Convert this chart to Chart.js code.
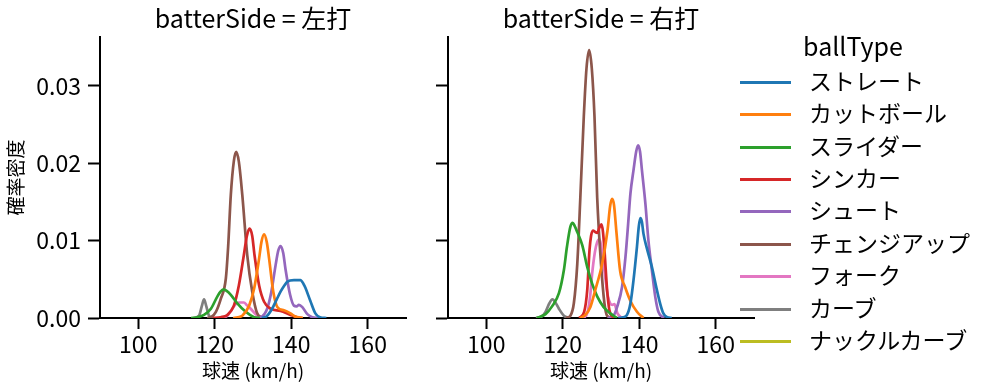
<!DOCTYPE html>
<html>
<head>
<meta charset="utf-8">
<script src="https://cdn.jsdelivr.net/npm/chart.js@4.4.1/dist/chart.umd.min.js"></script>
<style>
  body { margin: 0; background: #fff; }
  #wrap { position: relative; width: 987px; height: 391px; font-family: 'Noto Sans CJK JP', sans-serif; color: #000; }
  #leftChart { position: absolute; left: 0; top: 0; }
  #rightChart { position: absolute; left: 420px; top: 0; }
  #legend { position: absolute; left: 740px; top: 0; width: 230px; height: 391px; }
  .lg-title { position: absolute; left: 0; width: 226px; text-align: center; font-size: 25px; line-height: 25px; top: 33px; }
  .lg-line { position: absolute; left: 0; width: 51px; height: 3px; }
  .lg-text { position: absolute; left: 69px; font-size: 23px; line-height: 23px; white-space: nowrap; }
</style>
</head>
<body>
<div id="wrap">
  <canvas id="leftChart" width="420" height="391"></canvas>
  <canvas id="rightChart" width="350" height="391"></canvas>
  <div id="legend"></div>
</div>
<script>
const FONT = "'Noto Sans CJK JP', sans-serif";

// 球種と色
const ballTypes = ['ストレート', 'カットボール', 'スライダー', 'シンカー', 'シュート', 'チェンジアップ', 'フォーク', 'カーブ', 'ナックルカーブ'];
const colors = ['#1f77b4', '#ff7f0e', '#2ca02c', '#d62728', '#9467bd', '#8c564b', '#e377c2', '#7f7f7f', '#bcbd22'];

const xTicks = [100, 120, 140, 160];
const yTicks = [0, 0.01, 0.02, 0.03];

// 左打 : [球速, 確率密度]
const leftStraight = [[132.3,0],[133.5,0.0002],[135,0.0012],[136.2,0.0024],[137.2,0.0034],[138.2,0.0042],[139,0.0047],[140.7,0.0049],[142.4,0.0049],[143.2,0.0044],[143.7,0.0039],[145,0.0022],[146.3,0.0006],[147.5,0.0001],[149.2,0]];
const leftCut = [[124.8,0],[126,0.0001],[127.2,0.0003],[129,0.0016],[130.3,0.0038],[131.6,0.0077],[132.2,0.0098],[132.9,0.0108],[133.6,0.0098],[134.2,0.0077],[135.3,0.0034],[136.4,0.0014],[138.1,0.001],[139.8,0.0006],[141,0.0002],[143,0]];
const leftSlider = [[113.8,0],[115.5,0.0001],[117.2,0.0004],[119,0.0012],[120.7,0.0028],[121.5,0.0034],[122.3,0.0037],[123.1,0.0035],[124.2,0.003],[125.9,0.0019],[128.1,0.0008],[130.3,0.0001],[131.8,0]];
const leftSinker = [[119.5,0],[121.5,0.0001],[123.3,0.0004],[125,0.0016],[126.3,0.0042],[127.6,0.0081],[128.4,0.0106],[129.1,0.01155],[129.8,0.0106],[130.4,0.0081],[131.6,0.0042],[132.9,0.0021],[134.6,0.0012],[137.2,0.0009],[139.8,0.0004],[141.5,0.0001],[143,0]];
const leftShoot = [[130.5,0],[132,0.0001],[133.7,0.0012],[134.8,0.0034],[135.9,0.0068],[136.6,0.0087],[137.2,0.0093],[137.9,0.0084],[138.5,0.0063],[139.7,0.003],[140.7,0.0016],[141.4,0.0015],[142,0.0017],[142.9,0.0014],[144.2,0.0005],[145.5,0.0001],[147,0]];
const leftChangeup = [[118,0],[119,0.0001],[120.3,0.0008],[121.6,0.0025],[122.9,0.0051],[123.5,0.0092],[124.2,0.0159],[125,0.0203],[125.6,0.02145],[126.3,0.0202],[127.2,0.0159],[128.5,0.0081],[129.8,0.0034],[131.1,0.0006],[132.5,0]];
const leftFork = [[121.5,0],[123.3,0.0003],[124.6,0.0012],[125.5,0.0018],[126.3,0.002],[127.6,0.002],[128.5,0.0016],[129.4,0.0012],[130.7,0.0005],[132,0.0001],[133,0]];
const leftCurve = [[114.5,0],[115.9,0.0003],[116.6,0.0015],[117.2,0.0024],[117.8,0.0015],[118.5,0.0003],[119.8,0]];
const leftKnuckleCurve = [];

// 右打 : [球速, 確率密度]
const rightStraight = [[134.5,0],[135.8,0.0001],[136.8,0.0004],[137.7,0.0019],[138.5,0.0049],[139.4,0.0092],[139.9,0.0119],[140.3,0.0129],[140.7,0.0124],[141.1,0.0109],[142,0.009],[143.3,0.0066],[144.4,0.0041],[145.5,0.0018],[146.3,0.0006],[147.3,0.0001],[148.5,0]];
const rightCut = [[124.5,0],[125.9,0.0004],[127.2,0.0014],[128.5,0.0036],[130.3,0.007],[131.7,0.0113],[132.4,0.0145],[132.9,0.0154],[133.4,0.0146],[134,0.0113],[135,0.0061],[136.3,0.004],[137.6,0.0023],[139.4,0.0008],[141.1,0]];
const rightSlider = [[113.2,0],[115.5,0.0005],[117.2,0.0015],[119,0.0032],[120.3,0.0062],[121.1,0.0092],[122,0.0118],[122.6,0.0123],[123.1,0.0119],[123.8,0.0111],[125.1,0.0094],[126.4,0.0066],[127.7,0.0044],[129,0.0028],[130.7,0.0014],[132.4,0.0006],[134.2,0]];
const rightSinker = [[124.3,0],[125.6,0.0008],[126.4,0.0036],[127,0.0088],[127.4,0.0106],[127.9,0.0113],[128.5,0.0111],[129,0.011],[129.6,0.0117],[130.1,0.0121],[130.5,0.0112],[130.9,0.0088],[131.6,0.0036],[132.2,0.001],[133.3,0]];
const rightShoot = [[131.8,0],[133.3,0.0003],[134.2,0.0014],[135.5,0.004],[136.4,0.0079],[137.1,0.0122],[137.7,0.0161],[138.5,0.0191],[139.2,0.0215],[139.7,0.0223],[140.2,0.0215],[140.7,0.0191],[141.6,0.0148],[142.4,0.01],[143.3,0.0062],[144.2,0.0027],[145,0.0008],[146.5,0]];
const rightChangeup = [[120.8,0],[122,0.0003],[122.9,0.0019],[123.8,0.007],[124.6,0.0156],[125.5,0.026],[126.2,0.0322],[126.9,0.0346],[127.6,0.0322],[128.3,0.026],[129,0.0156],[130,0.007],[130.9,0.0019],[131.6,0.0003],[132.8,0]];
const rightFork = [[125.5,0],[126.5,0.0008],[127.2,0.003],[127.7,0.0058],[128.4,0.0085],[129,0.0098],[129.6,0.0102],[130.3,0.0085],[131.1,0.0053],[131.8,0.0028],[132.4,0.0019],[133,0.0017],[133.5,0.0018],[134.3,0.0006],[135.5,0]];
const rightCurve = [[113,0],[114.5,0.0002],[115.5,0.0008],[116.5,0.0019],[117.3,0.0024],[118.2,0.0019],[119,0.0012],[120.3,0.0003],[121.6,0]];
const rightKnuckleCurve = [];

const leftSeries = [leftStraight, leftCut, leftSlider, leftSinker, leftShoot, leftChangeup, leftFork, leftCurve, leftKnuckleCurve];
const rightSeries = [rightStraight, rightCut, rightSlider, rightSinker, rightShoot, rightChangeup, rightFork, rightCurve, rightKnuckleCurve];

// パネルのタイトル (軸の上に中央寄せ)
const panelTitle = {
    id: 'panelTitle',
    afterDraw(chart, args, opts) {
        const ctx = chart.ctx;
        const a = chart.chartArea;
        ctx.save();
        ctx.font = '25px ' + FONT;
        ctx.fillStyle = '#000';
        ctx.textAlign = 'center';
        ctx.textBaseline = 'alphabetic';
        ctx.fillText(opts.text, (a.left + a.right) / 2, a.top - 9);
        ctx.restore();
    }
};

function makePanel(canvasId, series, title, showY, yAxisWidth, padRight) {
    const ctx = document.getElementById(canvasId).getContext('2d');
    return new Chart(ctx, {
        type: 'line',
        data: {
            datasets: series.map((pts, i) => ({
                label: ballTypes[i],
                data: pts,
                borderColor: colors[i],
                backgroundColor: colors[i],
                borderWidth: 2.7,
                pointRadius: 0,
                fill: false,
                cubicInterpolationMode: 'monotone'
            }))
        },
        options: {
            responsive: false,
            animation: false,
            layout: { padding: { top: 37, right: padRight, bottom: 0, left: 0 } },
            plugins: {
                legend: { display: false },
                tooltip: { enabled: false },
                panelTitle: { text: title }
            },
            scales: {
                x: {
                    type: 'linear',
                    min: 90,
                    max: 170,
                    afterBuildTicks: s => { s.ticks = xTicks.map(v => ({ value: v })); },
                    afterFit: s => { s.height = 73; },
                    ticks: { color: '#000', font: { size: 23, family: FONT }, padding: 1, maxRotation: 0, autoSkip: false },
                    grid: { drawOnChartArea: false, drawTicks: true, tickLength: 11, tickWidth: 2, tickColor: '#000' },
                    border: { display: true, width: 2, color: '#000' },
                    title: { display: true, text: '球速 (km/h)', color: '#000', font: { size: 19, family: FONT }, padding: { top: 0, bottom: 9 } }
                },
                y: {
                    type: 'linear',
                    min: 0,
                    max: 0.0363,
                    afterBuildTicks: s => { s.ticks = yTicks.map(v => ({ value: v })); },
                    afterFit: s => { s.width = yAxisWidth; },
                    ticks: { display: showY, color: '#000', font: { size: 23, family: FONT }, padding: 7, callback: v => v.toFixed(2) },
                    grid: { drawOnChartArea: false, drawTicks: true, tickLength: 12, tickWidth: 2, tickColor: '#000' },
                    border: { display: true, width: 2, color: '#000' },
                    title: { display: showY, text: '確率密度', color: '#000', font: { size: 19, family: FONT }, padding: { top: 4, bottom: 0 } }
                }
            }
        },
        plugins: [panelTitle]
    });
}

document.fonts.load('23px "Noto Sans CJK JP"').then(() => {
    makePanel('leftChart', leftSeries, 'batterSide = 左打', true, 100, 14);
    makePanel('rightChart', rightSeries, 'batterSide = 右打', false, 28, 16);

    // 凡例
    const lg = document.getElementById('legend');
    const t = document.createElement('div');
    t.className = 'lg-title';
    t.textContent = 'ballType';
    lg.appendChild(t);
    ballTypes.forEach((name, i) => {
        const cy = 82.3 + 32.4 * i;
        const line = document.createElement('div');
        line.className = 'lg-line';
        line.style.top = (cy - 1.5) + 'px';
        line.style.background = colors[i];
        lg.appendChild(line);
        const txt = document.createElement('div');
        txt.className = 'lg-text';
        txt.style.top = (cy - 13.5) + 'px';
        txt.textContent = name;
        lg.appendChild(txt);
    });
});
</script>
</body>
</html>
